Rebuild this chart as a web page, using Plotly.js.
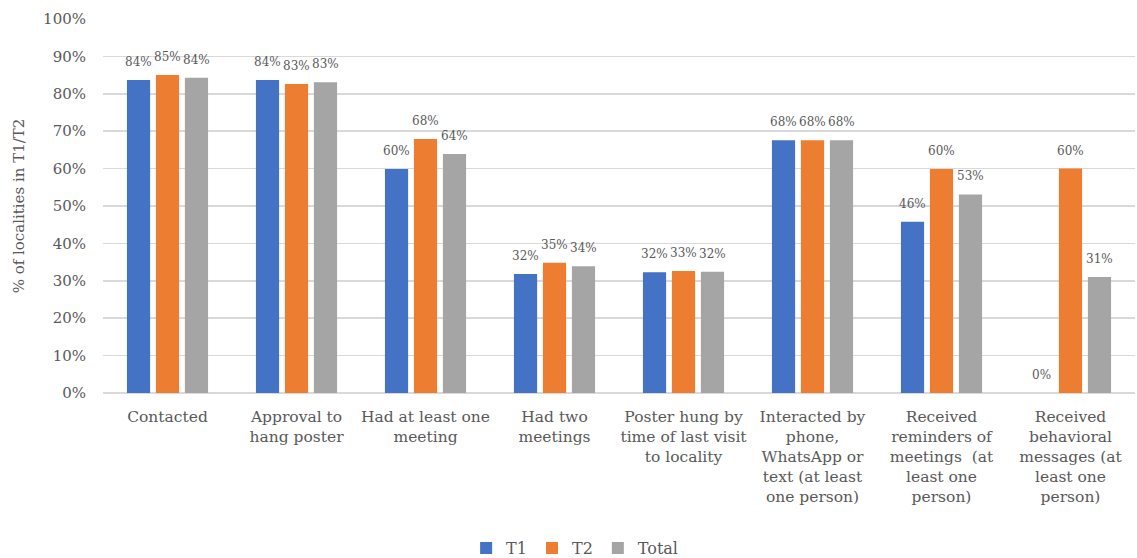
<!DOCTYPE html>
<html>
<head>
<meta charset="utf-8">
<script src="https://cdn.plot.ly/plotly-3.0.1.min.js"></script>
<style>html,body{margin:0;padding:0;background:#fff;}#chart{width:1137px;height:558px;}</style>
</head>
<body>
<div id="chart"></div>
<script>
const categories = [
  "Contacted",
  "Approval to<br>hang poster",
  "Had at least one<br>meeting",
  "Had two<br>meetings",
  "Poster hung by<br>time of last visit<br>to locality",
  "Interacted by<br>phone,<br>WhatsApp or<br>text (at least<br>one person)",
  "Received<br>reminders of<br>meetings  (at<br>least one<br>person)",
  "Received<br>behavioral<br>messages (at<br>least one<br>person)"
];
const seriesNames = ["T1", "T2", "Total"];
const t1Values    = [83.7, 83.7, 59.9, 31.8, 32.3, 67.6, 45.8, 0];
const t2Values    = [85.0, 82.6, 67.9, 34.8, 32.6, 67.6, 59.9, 60.0];
const totalValues = [84.3, 83.1, 63.9, 33.9, 32.4, 67.6, 53.1, 31.0];
const seriesColors = ["#4472C4", "#ED7D31", "#A5A5A5"];
const yTickVals = [0,10,20,30,40,50,60,70,80,90,100];

const FONT = "'DejaVu Serif', 'Liberation Serif', serif";
const TEXT = "#595959";
const BARGAP = 0.326;

const allValues = [t1Values, t2Values, totalValues];
const traces = allValues.map((vals, s) => ({
  type: "bar",
  name: seriesNames[s],
  x: categories,
  y: vals,
  marker: {color: seriesColors[s]},
  hoverinfo: "skip"
}));

const annotations = [];
allValues.forEach((vals, s) => {
  vals.forEach((v, i) => {
    annotations.push({
      x: i + (s - 1) * (1 - BARGAP) / 3,
      y: v,
      xref: "x", yref: "y",
      text: Math.round(v) + "%",
      showarrow: false,
      yanchor: "middle",
      yshift: 18,
      font: {family: FONT, size: 12, color: TEXT}
    });
  });
});

const layout = {
  width: 1137, height: 558,
  margin: {l: 103, r: 2, t: 19, b: 165, autoexpand: false},
  paper_bgcolor: "#fff", plot_bgcolor: "#fff",
  barmode: "group",
  bargap: BARGAP,
  bargroupgap: 0.2,
  font: {family: FONT, color: TEXT},
  xaxis: {
    type: "category",
    tickfont: {family: FONT, size: 15.5, color: TEXT},
    showgrid: false, showline: false, ticks: "",
    ticklabelstandoff: 12,
    automargin: false
  },
  yaxis: {
    range: [0, 100],
    tickvals: yTickVals,
    ticktext: yTickVals.map(v => v + "%"),
    tickfont: {family: FONT, size: 15, color: TEXT},
    showgrid: true, gridcolor: "#D9D9D9", gridwidth: 1.5,
    zeroline: true, zerolinecolor: "#D9D9D9", zerolinewidth: 1.5,
    showline: false, ticks: "outside", ticklen: 13, tickcolor: "rgba(0,0,0,0)",
    automargin: false,
    title: {text: "% of localities in T1/T2", font: {family: FONT, size: 15, color: TEXT}, standoff: 14}
  },
  showlegend: true,
  legend: {
    orientation: "h", x: 0.457, xanchor: "center", y: -0.415, yanchor: "middle",
    font: {family: FONT, size: 16, color: TEXT},
    itemwidth: 30, traceorder: "normal", tracegroupgap: 0
  },
  annotations: annotations
};

Plotly.newPlot("chart", traces, layout, {displayModeBar: false, staticPlot: true});
</script>
</body>
</html>
